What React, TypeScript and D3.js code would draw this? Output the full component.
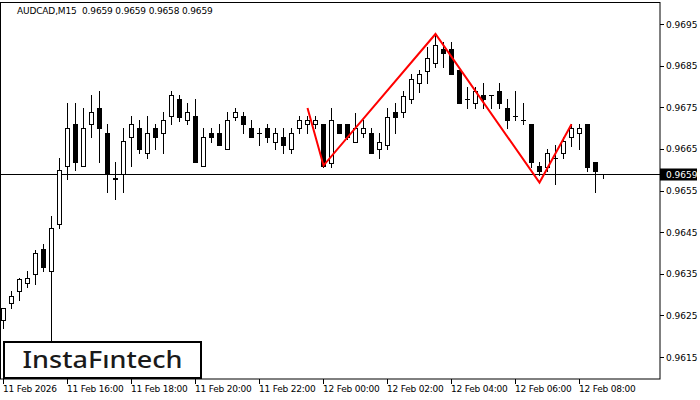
import React from "react";
import * as d3 from "d3";

const opens = [0.96239,0.9628,0.96309,0.96328,0.96349,0.96409,0.96357,0.9647,0.96609,0.9671,0.96609,0.9671,0.96748,0.96688,0.96578,0.9659,0.96679,0.967,0.9664,0.967,0.96688,0.96729,0.9677,0.96719,0.96729,0.96609,0.96688,0.96688,0.9665,0.96727,0.96729,0.967,0.96688,0.967,0.96667,0.96679,0.9665,0.967,0.9671,0.9671,0.9671,0.96616,0.9671,0.9671,0.96667,0.96688,0.96688,0.9665,0.96659,0.96739,0.96739,0.9677,0.96808,0.96837,0.96856,0.9689,0.9689,0.96839,0.9677,0.9676,0.96779,0.96779,0.96789,0.96748,0.96729,0.96719,0.9671,0.96609,0.96606,0.96628,0.9664,0.96679,0.96688,0.9671,0.96618,0.9659];
const highs = [0.96268,0.96309,0.9634,0.96357,0.96407,0.96421,0.96489,0.96628,0.9676,0.9676,0.96748,0.96779,0.96789,0.9671,0.96618,0.967,0.96729,0.96719,0.96729,0.9671,0.96739,0.96789,0.96779,0.9676,0.9677,0.967,0.967,0.9671,0.96739,0.96748,0.96739,0.96719,0.967,0.9671,0.967,0.967,0.967,0.96729,0.96729,0.96729,0.9671,0.96748,0.9671,0.9671,0.96736,0.96719,0.967,0.96688,0.96748,0.9676,0.96789,0.9683,0.96839,0.96895,0.96928,0.96907,0.96907,0.96839,0.96799,0.96799,0.96808,0.96779,0.96808,0.9677,0.96789,0.9676,0.9671,0.96618,0.9665,0.96659,0.96679,0.9671,0.9671,0.9671,0.96618,0.9659];
const lows = [0.9622,0.96268,0.96287,0.96318,0.96325,0.96357,0.96191,0.9646,0.96578,0.96599,0.96609,0.96679,0.96618,0.96546,0.9653,0.96546,0.96609,0.9664,0.96628,0.9665,0.9664,0.9671,0.96717,0.9671,0.96618,0.96609,0.96667,0.96659,0.9665,0.96719,0.96688,0.96679,0.96659,0.96667,0.9665,0.9664,0.9664,0.96688,0.96688,0.967,0.96606,0.96606,0.96688,0.96674,0.96667,0.96679,0.9664,0.96628,0.9665,0.96688,0.96727,0.9676,0.96787,0.96808,0.96847,0.96847,0.9683,0.9676,0.96748,0.96748,0.96748,0.96748,0.96748,0.967,0.96719,0.9671,0.96606,0.96587,0.96597,0.96566,0.96628,0.96657,0.9665,0.96597,0.96546,0.9658];
const closes = [0.96268,0.96297,0.96337,0.9634,0.964,0.96366,0.9646,0.96599,0.967,0.96618,0.967,0.96739,0.967,0.9659,0.9658,0.96669,0.9671,0.9665,0.96688,0.96679,0.96719,0.96779,0.96727,0.96739,0.96618,0.96679,0.96679,0.96659,0.96719,0.96739,0.9671,0.96679,0.96688,0.96679,0.96688,0.96659,0.96688,0.96719,0.96719,0.96719,0.96609,0.96719,0.96688,0.96679,0.967,0.967,0.9664,0.96667,0.96727,0.96727,0.96777,0.96818,0.9683,0.96868,0.969,0.9688,0.9683,0.9676,0.9677,0.96789,0.9677,0.96779,0.9676,0.96719,0.96729,0.96719,0.96618,0.96597,0.9664,0.96628,0.96669,0.967,0.967,0.96606,0.96597,0.9659];

const patternBars = [38, 40, 54, 67, 71];
const patternPrices = [0.96748, 0.9661, 0.96926, 0.96569, 0.96709];

const yTickValues = [0.9695, 0.9685, 0.9675, 0.9665, 0.9655, 0.9645, 0.9635, 0.9625, 0.9615];
const xTickBars = [0, 8, 16, 24, 32, 40, 48, 56, 64, 72];
const xTickLabels = ["11 Feb 2026", "11 Feb 16:00", "11 Feb 18:00", "11 Feb 20:00", "11 Feb 22:00", "12 Feb 00:00", "12 Feb 02:00", "12 Feb 04:00", "12 Feb 06:00", "12 Feb 08:00"];
const currentPrice = 0.9659;
const headerText = "AUDCAD,M15  0.9659 0.9659 0.9658 0.9659";

export default function App() {
  const W = 700, H = 400;
  const plotRight = 660, plotBottom = 379, plotTop = 2;
  const x = d3.scaleLinear().domain([0, 75]).range([3.5, 603.5]);
  const y = d3.scaleLinear().domain([0.9615, 0.9695]).range([357, 24]);
  const font = "Tahoma, 'DejaVu Sans', 'Liberation Sans', Arial, sans-serif";
  const line = d3.line<number>().x((d, i) => x(patternBars[i])).y((d) => y(d));
  const py = Math.round(y(currentPrice)) + 0.5;

  return (
    <svg width={W} height={H} style={{ position: "absolute", left: 0, top: 0, background: "#fff" }}>
      <rect x={0} y={0} width={W} height={H} fill="#fff" />
      <rect x={0.5} y={plotTop + 0.5} width={plotRight - 0.5} height={plotBottom - plotTop - 0.5} fill="none" stroke="#000" strokeWidth={1} />
      <line x1={0} x2={plotRight} y1={py} y2={py} stroke="#000" strokeWidth={1} />
      {opens.map((o, i) => {
        const c = closes[i];
        const cx = x(i);
        const yo = y(o), yc = y(c);
        const top = Math.round(Math.min(yo, yc));
        const bot = Math.round(Math.max(yo, yc));
        const bull = c >= o;
        const hy = Math.round(y(highs[i]));
        const ly = Math.round(y(lows[i]));
        return (
          <g key={i}>
            <line x1={cx} x2={cx} y1={hy} y2={ly + 1} stroke="#000" strokeWidth={1} />
            {bot - top < 1 ? (
              <line x1={cx - 2.5} x2={cx + 2.5} y1={top + 0.5} y2={top + 0.5} stroke="#000" strokeWidth={1} />
            ) : bull ? (
              <rect x={cx - 2} y={top + 0.5} width={4} height={bot - top} fill="#fff" stroke="#000" strokeWidth={1} />
            ) : (
              <rect x={cx - 2.5} y={top} width={5} height={bot - top + 1} fill="#000" />
            )}
          </g>
        );
      })}
      <path d={line(patternPrices) || ""} fill="none" stroke="#ff0000" strokeWidth={2} strokeLinejoin="miter" />
      {yTickValues.map((v) => (
        <g key={v}>
          <line x1={plotRight} x2={plotRight + 4} y1={Math.round(y(v)) + 0.5} y2={Math.round(y(v)) + 0.5} stroke="#000" />
          <text x={666} y={y(v) + 3.5} fontSize={9} fontFamily={font} fill="#000">{v.toFixed(4)}</text>
        </g>
      ))}
      <rect x={plotRight} y={py - 6} width={37} height={12} fill="#000" />
      <text x={666} y={py + 3.5} fontSize={9} fontFamily={font} fill="#fff">{currentPrice.toFixed(4)}</text>
      {xTickBars.map((b, i) => (
        <g key={b}>
          <line x1={x(b)} x2={x(b)} y1={plotBottom} y2={plotBottom + 5} stroke="#000" />
          <text x={x(b) - 0.5} y={392} fontSize={9} fontFamily={font} fill="#000" letterSpacing={-0.2}>{xTickLabels[i]}</text>
        </g>
      ))}
      <text x={17} y={14} fontSize={9} fontFamily={font} fill="#000" style={{ whiteSpace: "pre" }} letterSpacing={-0.15}>{headerText}</text>
      <rect x={4} y={342} width={197} height={36} fill="#fff" stroke="#000" strokeWidth={2} />
      <text x={22.5} y={367.5} fontSize={23} fontFamily="'Noto Sans', Roboto, sans-serif" fontWeight={500} fill="#1a1a1a" textLength={160} lengthAdjust="spacingAndGlyphs">InstaFıntech</text>
    </svg>
  );
}
